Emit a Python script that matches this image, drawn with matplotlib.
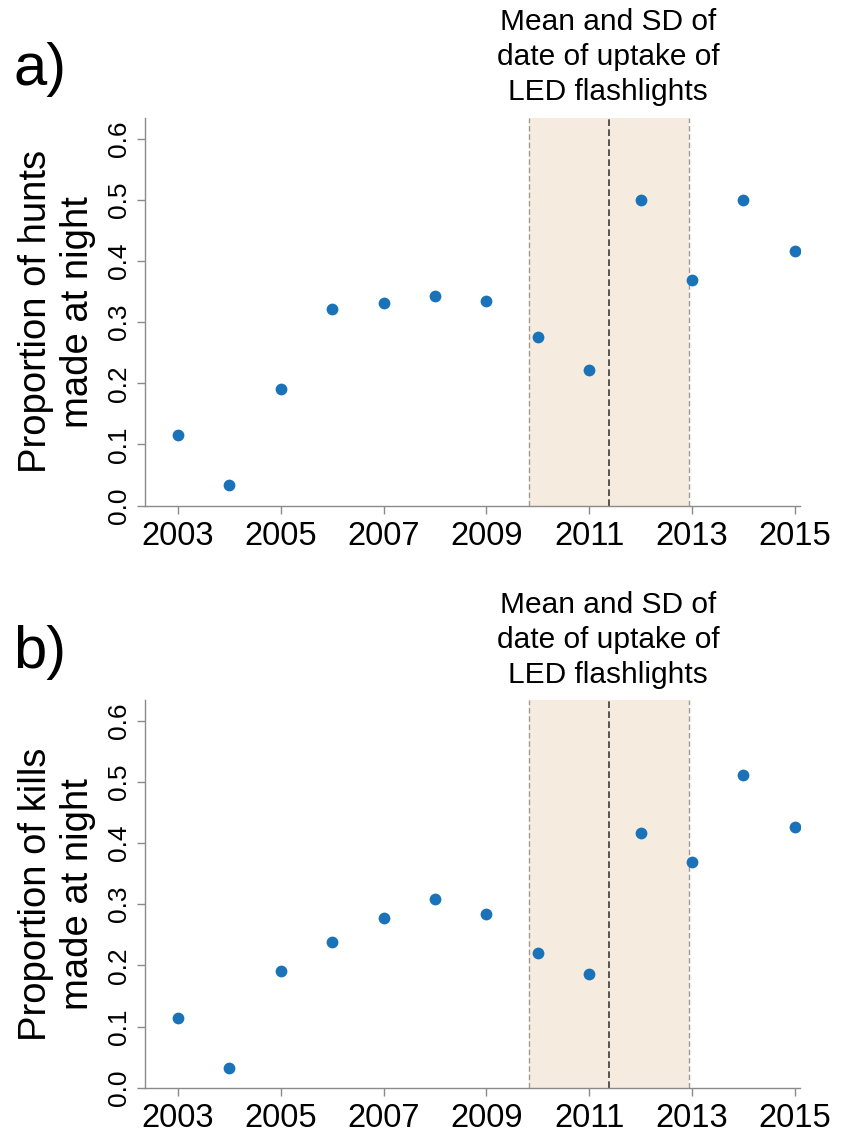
import matplotlib
matplotlib.use("Agg")
import matplotlib.pyplot as plt

plt.rcParams['font.family'] = ['Liberation Sans', 'DejaVu Sans']

years = [2003, 2004, 2005, 2006, 2007, 2008, 2009, 2010, 2011, 2012, 2013, 2014, 2015]
hunts_night = [0.115, 0.033, 0.190, 0.322, 0.332, 0.343, 0.334, 0.275, 0.221, 0.500, 0.369, 0.500, 0.417]
kills_night = [0.114, 0.032, 0.191, 0.238, 0.278, 0.308, 0.284, 0.220, 0.186, 0.416, 0.369, 0.511, 0.427]
led_mean = 2011.38
led_sd = 1.56
xticks = [2003, 2005, 2007, 2009, 2011, 2013, 2015]
yticks = [0.0, 0.1, 0.2, 0.3, 0.4, 0.5, 0.6]
ylabels = ["Proportion of hunts\nmade at night", "Proportion of kills\nmade at night"]
panel_tags = ["a)", "b)"]
annot = "Mean and SD of\ndate of uptake of\nLED flashlights"

W, H = 842, 1133
fig = plt.figure(figsize=(W / 100, H / 100), dpi=100)

left = 145 / W
right = 800 / W
panels = [
    (118, 505.5, hunts_night, 42, 8),
    (700, 1087.7, kills_night, 625, 591),
]
spine_col = '#8a8a8a'
dot_col = '#1a72b8'

for i, (top_px, bot_px, vals, tag_y, ann_y) in enumerate(panels):
    ax = fig.add_axes([left, 1 - bot_px / H, right - left, (bot_px - top_px) / H])
    ax.set_xlim(2002.36, 2015.1)
    ax.set_ylim(0, 0.634)
    ax.axvspan(led_mean - led_sd, led_mean + led_sd, color='#f6ebdf', lw=0, zorder=0)
    for xv in (led_mean - led_sd, led_mean + led_sd):
        ax.axvline(xv, color='#a09a94', lw=1.0, ls=(0, (4, 2)), zorder=1)
    ax.axvline(led_mean, color='#3a3a3a', lw=1.2, ls=(0, (4, 2)), zorder=1)
    ax.scatter(years, vals, s=72, color=dot_col, zorder=3, linewidths=0)
    for s in ('top', 'right'):
        ax.spines[s].set_visible(False)
    for s in ('left', 'bottom'):
        ax.spines[s].set_color(spine_col)
        ax.spines[s].set_linewidth(1.0)
    ax.set_xticks(xticks)
    ax.set_xticklabels([str(x) for x in xticks], fontsize=23.5)
    ax.set_yticks(yticks)
    ax.set_yticklabels([f"{v:.1f}" for v in yticks], fontsize=19, rotation=90, va='center')
    ax.tick_params(axis='both', direction='out', length=6, width=1.0, color=spine_col)
    ax.tick_params(axis='x', pad=5)
    ax.tick_params(axis='y', pad=4)
    ax.set_ylabel(ylabels[i], fontsize=27.5, linespacing=1.22, labelpad=8)
    fig.text(13 / W, 1 - tag_y / H, panel_tags[i], fontsize=43, ha='left', va='top')
    fig.text(608 / W, 1 - ann_y / H, annot, fontsize=21.5, ha='center', va='top', linespacing=1.32)

fig.savefig('out.png', dpi=100)
